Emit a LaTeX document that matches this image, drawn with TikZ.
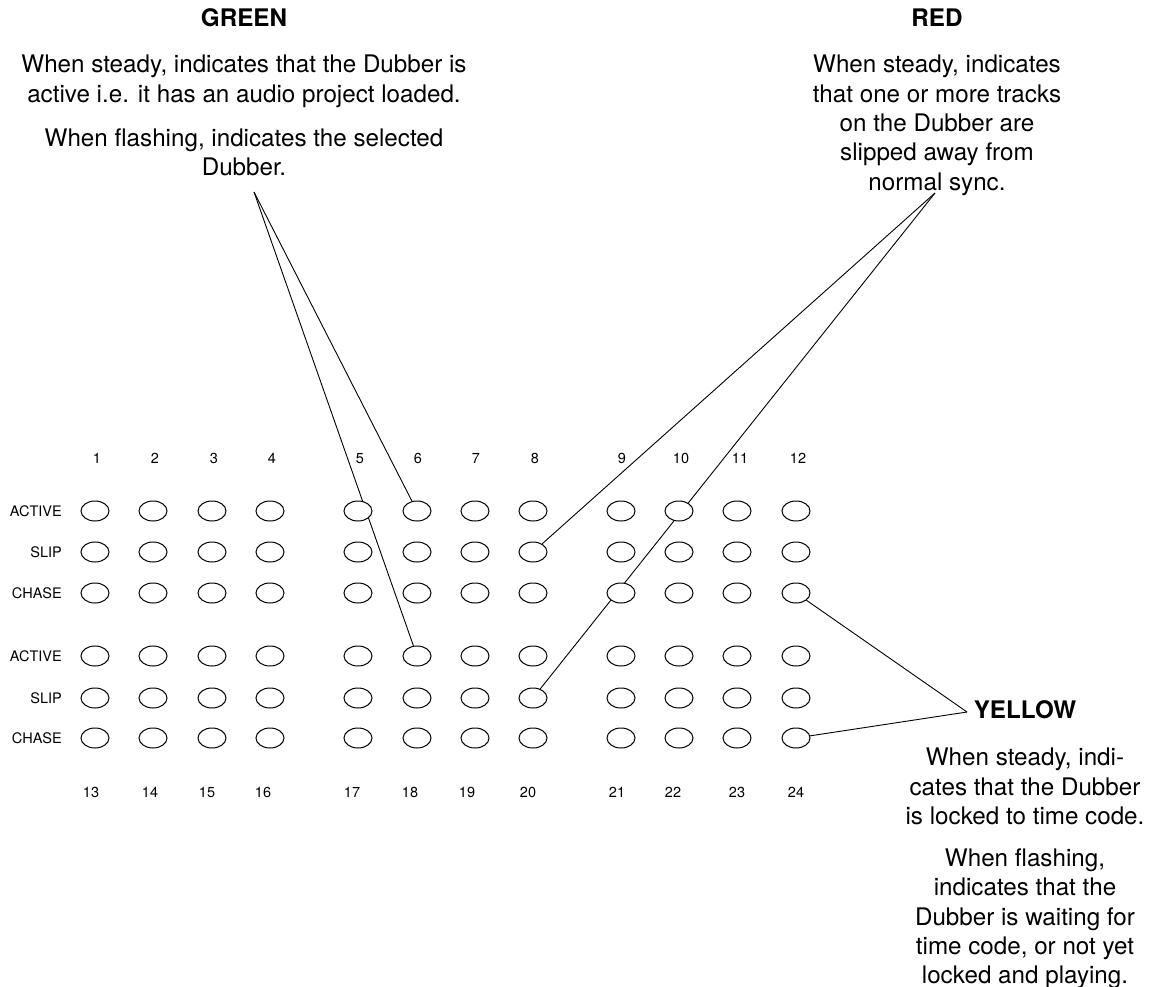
\documentclass[tikz,border=0pt]{standalone}
\usepackage{fontspec}
\setmainfont{TeX Gyre Heros}
\usetikzlibrary{shapes.geometric,backgrounds}

\begin{document}
\begin{tikzpicture}[x=1pt, y=-1pt,
    led/.style={ellipse, draw, fill=white, line width=1pt, minimum width=28pt, minimum height=20pt, inner sep=0pt},
    num/.style={font=\fontsize{14.5}{17}\selectfont, inner sep=0pt, anchor=base},
    rowname/.style={font=\fontsize{14.5}{17}\selectfont, inner sep=0pt, anchor=east},
    title/.style={font=\fontsize{24.2}{29.3}\selectfont\bfseries, inner sep=0pt, anchor=base},
    desc/.style={font=\fontsize{24.2}{29.3}\selectfont, align=center, inner sep=0pt, anchor=north},
    leader/.style={line width=0.9pt}]
    \useasboundingbox (0,0) rectangle (1156,987);

    % LED grid, top and bottom Dubbers
    \foreach \t/\b/\x/\tx/\bx in {1/13/95/97/91, 2/14/153/155/150, 3/15/212/214/207, 4/16/270/272/263,
        5/17/358/360/352, 6/18/417/418/410, 7/19/475/476/467, 8/20/533/535/528,
        9/21/621/622/617, 10/22/679/681/673, 11/23/737/740/737, 12/24/796/798/796}
    {
        \node[led] (a\t) at (\x,511) {};
        \node[led] (s\t) at (\x,552) {};
        \node[led] (c\t) at (\x,593) {};
        \node[led] (a\b) at (\x,656) {};
        \node[led] (s\b) at (\x,698) {};
        \node[led] (c\b) at (\x,738) {};
        \node[num] (n\t) at (\tx,463) {\t};
        \node[num] (n\b) at (\bx,797) {\b};
    }

    % Row names
    \node[rowname] (act1) at (62,511) {ACTIVE};
    \node[rowname] (slip1) at (62,552) {SLIP};
    \node[rowname] (chase1) at (62,593) {CHASE};
    \node[rowname] (act2) at (62,656) {ACTIVE};
    \node[rowname] (slip2) at (62,698) {SLIP};
    \node[rowname] (chase2) at (62,738) {CHASE};

    % Green
    \node[title] (green) at (244,27) {GREEN};
    \node[desc] (greentxt) at (244,55) {When steady, indicates that the Dubber is\\ active i.e. it has an audio project loaded.\\[14.7pt] When flashing, indicates the selected\\ Dubber.};

    % Red
    \node[title] (red) at (937,27) {RED};
    \node[desc] (redtxt) at (937,55) {When steady, indicates\\ that one or more tracks\\ on the Dubber are\\ slipped away from\\ normal sync.};

    % Yellow
    \node[title] (yellow) at (1025,718) {YELLOW};
    \node[desc] (yellowtxt) at (1025,748) {When steady, indi-\\ cates that the Dubber\\ is locked to time code.\\[12.7pt] When flashing,\\ indicates that the\\ Dubber is waiting for\\ time code, or not yet\\ locked and playing.};

    % Leader lines
    \coordinate (gtip) at (254,192);
    \coordinate (rtip) at (935,193);
    \coordinate (ytip) at (967,712);
    \begin{pgfonlayer}{background}
        \draw[leader] (gtip) -- (a6);
        \draw[leader] (gtip) -- (a18);
        \draw[leader] (rtip) -- (s8);
        \draw[leader] (rtip) -- (s20);
        \draw[leader] (ytip) -- (c12);
        \draw[leader] (ytip) -- (c24);
    \end{pgfonlayer}
\end{tikzpicture}
\end{document}
